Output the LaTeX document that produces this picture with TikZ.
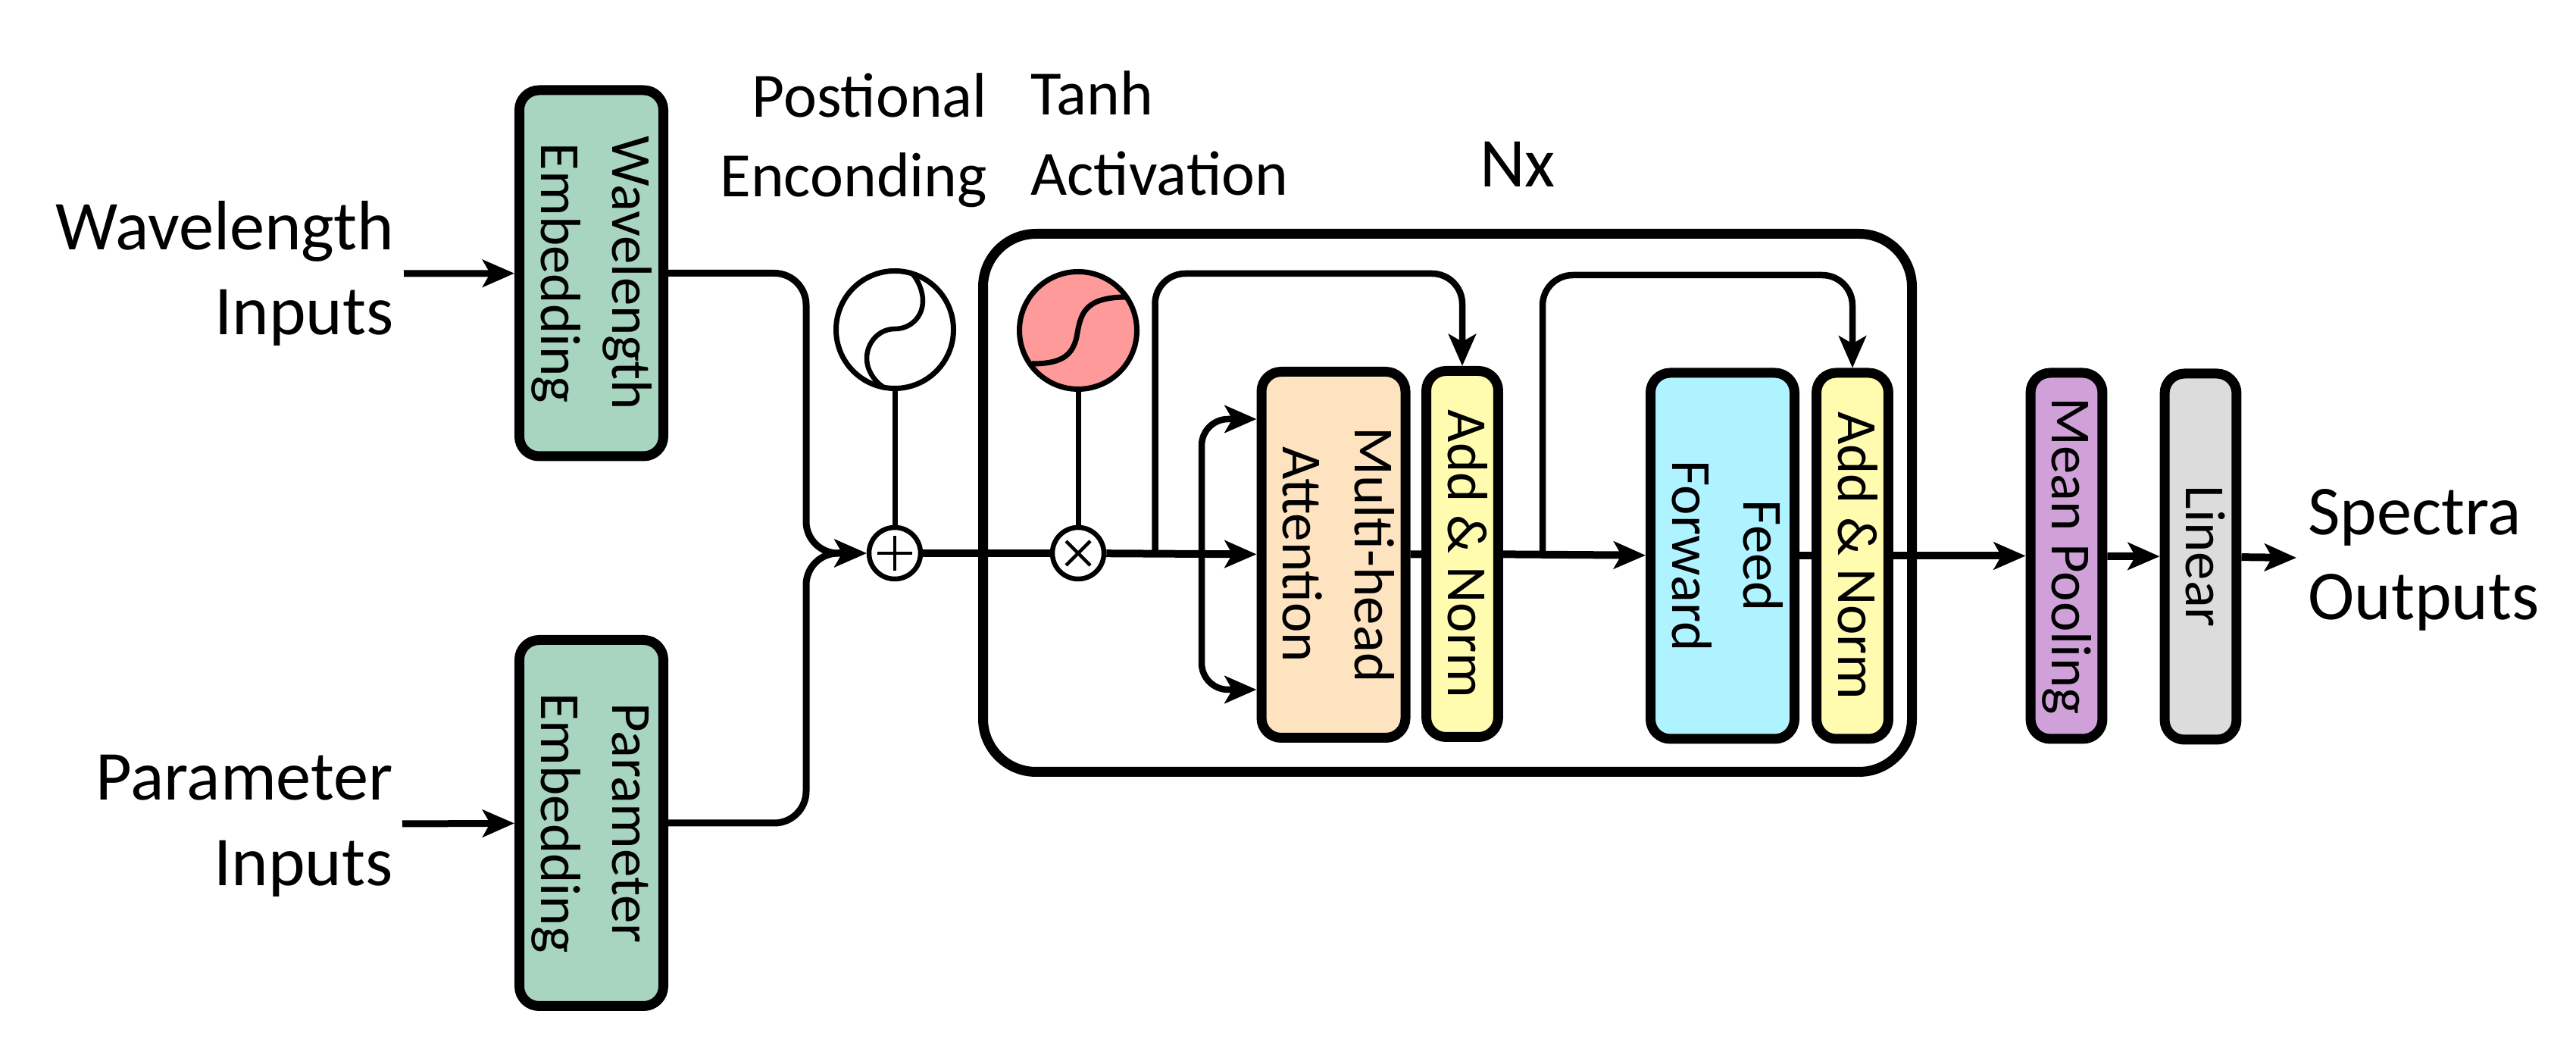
\documentclass[tikz,border=0pt]{standalone}
\usepackage{fontspec}
\usepackage{graphicx}
\setmainfont{Carlito}
\usetikzlibrary{arrows.meta, calc}
\newcommand{\vtext}[1]{\rotatebox{-90}{\begin{tabular}{@{}c@{}}#1\end{tabular}}}

\begin{document}
\begin{tikzpicture}[-{Stealth[length=.42cm,width=.36cm,inset=.1cm]}, line width=.09cm,
      inner sep=0pt, outer sep=.5\pgflinewidth,
      bigbox/.style={draw, line width=.13cm, rounded corners=.26cm, minimum width=1.9cm,
        minimum height=4.83cm, font=\fontsize{21.3}{27}\selectfont},
      slimbox/.style={bigbox, minimum width=.93cm},
      oper/.style={circle, draw, fill=white, line width=.065cm, minimum size=.68cm},
      bulb/.style={circle, draw, line width=.07cm, minimum size=1.55cm},
      biglabel/.style={font=\fontsize{26.3}{32}\selectfont},
      toplabel/.style={font=\fontsize{23.7}{30}\selectfont}]
      \path[use as bounding box] (0,0) rectangle (34,14);
      \definecolor{embedcol}{HTML}{A7D5C0}
      \definecolor{attncol}{HTML}{FEE3C0}
      \definecolor{normcol}{HTML}{FFFBAF}
      \definecolor{feedcol}{HTML}{AEF3FF}
      \definecolor{poolcol}{HTML}{D0A1D9}
      \definecolor{linearcol}{HTML}{DCDCDC}
      \definecolor{tanhcol}{HTML}{FF9A9A}
      % labels;
      \node[biglabel, align=right, anchor=east] (wave_label) at (5.24,10.39) {Wavelength\\Inputs};
      \node[biglabel, align=right, anchor=east] (parm_label) at (5.23,3.10) {Parameter\\Inputs};
      \node[toplabel, align=right, anchor=east] (pe_label) at (13.075,12.15) {Postional\\Enconding};
      \node[toplabel, align=left, anchor=west] (tanh_label) at (13.56,12.24) {Tanh\\Activation};
      \node[biglabel] (nx_label) at (20.03,11.83) {Nx};
      \node[biglabel, align=left, anchor=west] (out_label) at (30.42,6.61) {Spectra\\Outputs};
      % stack frame;
      \node[draw, line width=.13cm, rounded corners=.7cm, minimum width=12.26cm,
        minimum height=7.10cm] (stack) at (19.105,7.365) {};
      % embeddings;
      \node[bigbox, fill=embedcol] (wave_emb) at (7.805,10.395) {\vtext{Wavelength\\Embedding}};
      \node[bigbox, fill=embedcol] (parm_emb) at (7.805,3.14) {\vtext{Parameter\\Embedding}};
      \coordinate (wave_in) at (5.33,10.39);
      \coordinate (parm_in) at (5.31,3.13);
      \path (wave_in) edge (wave_emb);
      \path (parm_in) edge (parm_emb);
      % encoding, activation;
      \node[bulb] (pe) at (11.81,9.65) {};
      \node[bulb, fill=tanhcol] (tanh) at (14.23,9.64) {};
      \node[oper] (plus) at (11.81,6.70) {};
      \node[oper] (times) at (14.23,6.70) {};
      \draw[-, line width=.07cm] (pe.south) -- (plus.north);
      \draw[-, line width=.07cm] (tanh.south) -- (times.north);
      \draw[-, line width=.065cm] (11.81,9.66) .. controls (12.02,9.66) and (12.18,9.82) .. (12.18,10.03)
        .. controls (12.18,10.16) and (12.12,10.30) .. (12.04,10.39);
      \draw[-, line width=.065cm] (11.81,9.66) .. controls (11.60,9.66) and (11.44,9.48) .. (11.44,9.27)
        .. controls (11.44,9.12) and (11.54,8.96) .. (11.68,8.88);
      \draw[-, line width=.07cm] (13.62,9.20) .. controls (14.00,9.20) and (14.15,9.30) .. (14.21,9.55)
        .. controls (14.26,9.85) and (14.30,10.08) .. (14.87,10.08);
      \draw[-, line width=.045cm] ($(plus)+(-.23,0)$) -- ($(plus)+(.23,0)$);
      \draw[-, line width=.045cm] ($(plus)+(0,-.23)$) -- ($(plus)+(0,.23)$);
      \draw[-, line width=.045cm] ($(times)+(-.16,.16)$) -- ($(times)+(.16,-.16)$);
      \draw[-, line width=.045cm] ($(times)+(-.16,-.16)$) -- ($(times)+(.16,.16)$);
      \draw[rounded corners=.42cm] (wave_emb.east) -- (10.64,10.395) |- (plus.west);
      \draw[rounded corners=.42cm] (parm_emb.east) -- (10.64,3.14) |- (plus.west);
      % encoder blocks;
      \node[bigbox, fill=attncol] (attn) at (17.60,6.68) {\vtext{Multi-head\\Attention}};
      \node[slimbox, fill=normcol] (norm_1) at (19.30,6.69) {\vtext{Add \& Norm}};
      \node[bigbox, fill=feedcol] (feed) at (22.735,6.665) {\vtext{Feed\\Forward}};
      \node[slimbox, fill=normcol] (norm_2) at (24.45,6.665) {\vtext{Add \& Norm}};
      \path[line width=.1cm] (plus) edge[-] (times);
      \path[line width=.1cm] (times) edge (attn);
      \path[line width=.1cm] (attn) edge[-] (norm_1);
      \path[line width=.1cm] (norm_1) edge (feed);
      \path[line width=.1cm] (feed) edge[-] (norm_2);
      % skips;
      \coordinate (skip_1) at (15.245,6.69);
      \coordinate (skip_2) at (20.36,6.68);
      \coordinate (fork) at (15.86,6.68);
      \draw[rounded corners=.4cm, line width=.085cm] (skip_1) -- ++(0,3.70) -| (norm_1.north);
      \draw[rounded corners=.4cm, line width=.085cm] (skip_2) -- ++(0,3.69) -| (norm_2.north);
      \draw[rounded corners=.35cm, line width=.085cm] (fork) |- ($(attn.west)+(0,1.79)$);
      \draw[rounded corners=.35cm, line width=.085cm] (fork) |- ($(attn.west)+(0,-1.78)$);
      % outputs;
      \node[slimbox, fill=poolcol] (pool) at (27.275,6.665) {\vtext{Mean Pooling}};
      \node[slimbox, fill=linearcol] (linear) at (29.045,6.655) {\vtext{Linear}};
      \coordinate (spectra) at (30.31,6.64);
      \path[line width=.1cm] (norm_2) edge (pool);
      \path[line width=.1cm] (pool) edge (linear);
      \path[line width=.1cm] (linear) edge (spectra);
  \end{tikzpicture}
\end{document}
